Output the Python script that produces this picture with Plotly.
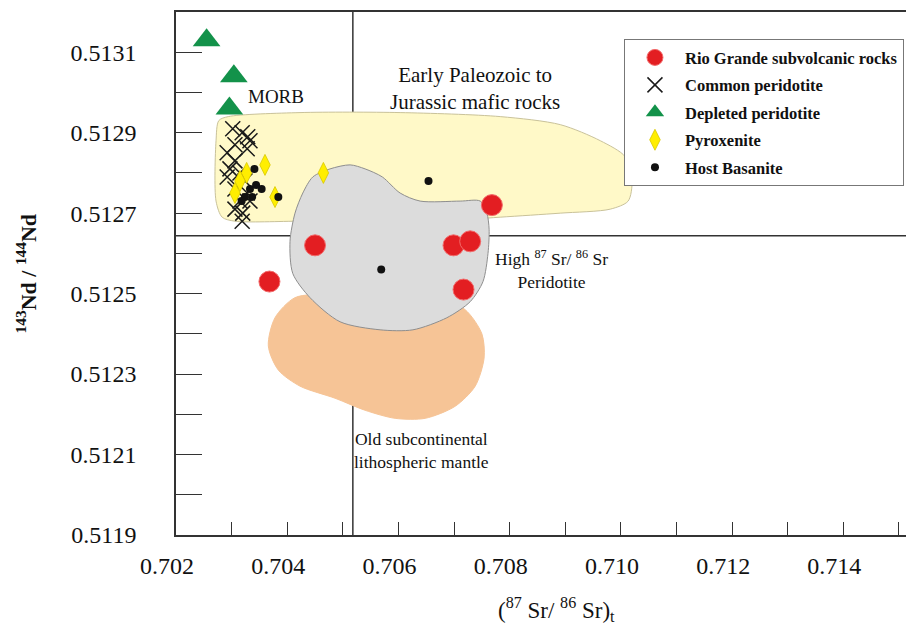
import plotly.graph_objects as go

# ---------------- data ----------------
rio_x = [0.70368, 0.70450, 0.70699, 0.70729, 0.70717, 0.70768]
rio_y = [0.51253, 0.51262, 0.51262, 0.51263, 0.51251, 0.51272]

common_x = [0.70302, 0.70319, 0.70329, 0.70333, 0.70306, 0.70328, 0.70292, 0.70306,
            0.70297, 0.70315, 0.70292, 0.70324, 0.70306, 0.70328, 0.70315, 0.70333,
            0.70306, 0.70320, 0.70319]
common_y = [0.51291, 0.51290, 0.51289, 0.51288, 0.51287, 0.51286, 0.51285, 0.51283,
            0.51281, 0.51280, 0.51279, 0.51278, 0.51276, 0.51275, 0.51273, 0.51273,
            0.51271, 0.51270, 0.51268]

depleted_x = [0.70255, 0.70304, 0.70296]
depleted_y = [0.51313, 0.51304, 0.51296]

pyrox_x = [0.70360, 0.70327, 0.70315, 0.70306, 0.70378, 0.70465]
pyrox_y = [0.51282, 0.51280, 0.51278, 0.51275, 0.51274, 0.51280]

basanite_x = [0.70341, 0.70333, 0.70354, 0.70344, 0.70324, 0.70337, 0.70318, 0.70384,
              0.70654, 0.70569]
basanite_y = [0.51281, 0.51276, 0.51276, 0.51277, 0.51274, 0.51274, 0.51273, 0.51274,
              0.51278, 0.51256]

# field outlines (data units)
yellow_x = [0.70294, 0.70423, 0.70603, 0.70783, 0.70891, 0.70963, 0.71008, 0.71020,
            0.71013, 0.70981, 0.70891, 0.70783, 0.70675, 0.70567, 0.70423, 0.70306,
            0.70283, 0.70272, 0.70272, 0.70277]
yellow_y = [0.51294, 0.51295, 0.51295, 0.51294, 0.51292, 0.51288, 0.51284, 0.51278,
            0.51273, 0.51271, 0.51270, 0.51269, 0.51268, 0.51268, 0.51268, 0.51268,
            0.51269, 0.51273, 0.51288, 0.51293]

gray_x = [0.70446, 0.70477, 0.70513, 0.70540, 0.70571, 0.70603, 0.70639, 0.70711,
          0.70747, 0.70759, 0.70763, 0.70761, 0.70752, 0.70729, 0.70687, 0.70626,
          0.70567, 0.70495, 0.70441, 0.70410, 0.70405, 0.70414, 0.70428]
gray_y = [0.51279, 0.51281, 0.51282, 0.51281, 0.51279, 0.51275, 0.51273, 0.51273,
          0.51273, 0.51270, 0.51266, 0.51260, 0.51253, 0.51248, 0.51244, 0.51241,
          0.51241, 0.51243, 0.51249, 0.51255, 0.51263, 0.51270, 0.51275]

orange_x = [0.70366, 0.70378, 0.70414, 0.70477, 0.70567, 0.70657, 0.70720, 0.70750,
            0.70754, 0.70738, 0.70702, 0.70648, 0.70594, 0.70540, 0.70486, 0.70423,
            0.70384]
orange_y = [0.51237, 0.51244, 0.51249, 0.51250, 0.51251, 0.51250, 0.51246, 0.51240,
            0.51234, 0.51227, 0.51222, 0.51219, 0.51219, 0.51221, 0.51224, 0.51227,
            0.51231]

bulk_sr = 0.70518
chur_nd = 0.512644

x_range = [0.702, 0.71527]
y_range = [0.5119, 0.5132]
x_ticks = [0.702, 0.704, 0.706, 0.708, 0.710, 0.712, 0.714]
y_ticks = [0.5119, 0.5121, 0.5123, 0.5125, 0.5127, 0.5129, 0.5131]

SERIF = "Liberation Serif, Times New Roman, serif"

fig = go.Figure()

# fields
fig.add_trace(go.Scatter(x=yellow_x + yellow_x[:1], y=yellow_y + yellow_y[:1], mode="lines",
                         fill="toself", fillcolor="#FFF9C8",
                         line=dict(color="#C9C29A", width=1, shape="spline", smoothing=0.8),
                         showlegend=False, hoverinfo="skip"))
fig.add_trace(go.Scatter(x=orange_x + orange_x[:1], y=orange_y + orange_y[:1], mode="lines",
                         fill="toself", fillcolor="#F6C496",
                         line=dict(color="#F6C496", width=1, shape="spline", smoothing=0.8),
                         showlegend=False, hoverinfo="skip"))
fig.add_trace(go.Scatter(x=gray_x + gray_x[:1], y=gray_y + gray_y[:1], mode="lines",
                         fill="toself", fillcolor="#DCDCDC",
                         line=dict(color="#8E8E8E", width=1, shape="spline", smoothing=0.8),
                         showlegend=False, hoverinfo="skip"))

# points
fig.add_trace(go.Scatter(x=rio_x, y=rio_y, mode="markers", name="Rio Grande subvolcanic rocks",
                         legendgroup="a",
                         marker=dict(symbol="circle", size=21, color="#E31E22",
                                     line=dict(color="#F26A6A", width=1))))
fig.add_trace(go.Scatter(x=common_x, y=common_y, mode="markers", name="Common peridotite",
                         legendgroup="b",
                         marker=dict(symbol="x-thin-open", size=15, color="#1A1A1A",
                                     line=dict(color="#1A1A1A", width=1.5))))
fig.add_trace(go.Scatter(x=depleted_x, y=depleted_y, mode="markers", name="Depleted peridotite",
                         legendgroup="c",
                         marker=dict(symbol="triangle-up", size=24, color="#13924A")))
fig.add_trace(go.Scatter(x=pyrox_x, y=pyrox_y, mode="markers", name="Pyroxenite",
                         legendgroup="d",
                         marker=dict(symbol="diamond-tall", size=15, color="#FFEE00",
                                     line=dict(color="#D8C800", width=0.8))))
fig.add_trace(go.Scatter(x=basanite_x, y=basanite_y, mode="markers", name="Host Basanite",
                         legendgroup="e",
                         marker=dict(symbol="circle", size=8, color="#111111")))

# reference lines
fig.add_shape(type="line", x0=bulk_sr, x1=bulk_sr, y0=y_range[0], y1=y_range[1],
              xref="x", yref="y", layer="below", line=dict(color="#333333", width=1.5))
fig.add_shape(type="line", x0=x_range[0], x1=x_range[1], y0=chur_nd, y1=chur_nd,
              xref="x", yref="y", layer="below", line=dict(color="#333333", width=1.5))

def txt(size):
    return dict(family=SERIF, size=size, color="#111111")

fig.add_annotation(x=0.70380, y=0.51299, text="MORB", showarrow=False, font=txt(19))
fig.add_annotation(x=0.70738, y=0.51301, text="Early Paleozoic to<br>Jurassic mafic rocks",
                   showarrow=False, font=txt(21))
fig.add_annotation(x=0.70875, y=0.51256,
                   text="High <sup>87</sup> Sr/ <sup>86</sup> Sr<br>Peridotite",
                   showarrow=False, font=txt(17.5))
fig.add_annotation(x=0.70642, y=0.51211, text="Old subcontinental<br>lithospheric mantle",
                   showarrow=False, font=txt(17.5))

# axis titles
fig.add_annotation(xref="paper", yref="paper", x=-0.2033, y=0.5,
                   xanchor="center", yanchor="middle",
                   text="<b><sup>143</sup>Nd / <sup>144</sup>Nd</b>", textangle=-90,
                   showarrow=False, font=txt(22))
fig.add_annotation(xref="paper", yref="paper", x=0.515, y=-0.1434,
                   xanchor="center", yanchor="middle",
                   text="(<sup>87</sup> Sr/ <sup>86</sup> Sr)<sub>t</sub>",
                   showarrow=False, font=txt(23))

# page body has an 8px margin: size/margins compensate so the plot lands where the reference is
fig.update_layout(
    width=906, height=624,
    margin=dict(l=168, r=0, t=4, b=97),
    paper_bgcolor="white", plot_bgcolor="white",
    font=dict(family=SERIF, color="#111111"),
    legend=dict(x=0.607, y=0.948, xanchor="left", yanchor="top",
                bgcolor="white", bordercolor="#777777", borderwidth=1,
                font=dict(family=SERIF, size=16.5, color="#111111", weight="bold"),
                itemwidth=50, tracegroupgap=3),
    xaxis=dict(range=x_range, showgrid=False, zeroline=False, showline=True,
               linecolor="#333333", linewidth=1.5, mirror=True,
               ticks="inside", ticklen=13, tickcolor="#333333", tickwidth=1,
               tickvals=x_ticks, tickformat=".3f",
               ticklabelshift=-9, ticklabelstandoff=8,
               tickfont=dict(family=SERIF, size=24, color="#111111"),
               minor=dict(dtick=0.001, tick0=0.702, ticks="inside", ticklen=13,
                          tickcolor="#333333", tickwidth=1)),
    yaxis=dict(range=y_range, showgrid=False, zeroline=False, showline=True,
               linecolor="#333333", linewidth=1.5, mirror=False,
               ticks="inside", ticklen=13, tickcolor="#333333", tickwidth=1,
               tickvals=y_ticks, tickformat=".4f",
               ticklabelstandoff=33,
               tickfont=dict(family=SERIF, size=24, color="#111111"),
               minor=dict(dtick=0.0001, tick0=0.5119, ticks="inside", ticklen=26,
                          tickcolor="#333333", tickwidth=1)),
)

fig.write_html("out.html")
